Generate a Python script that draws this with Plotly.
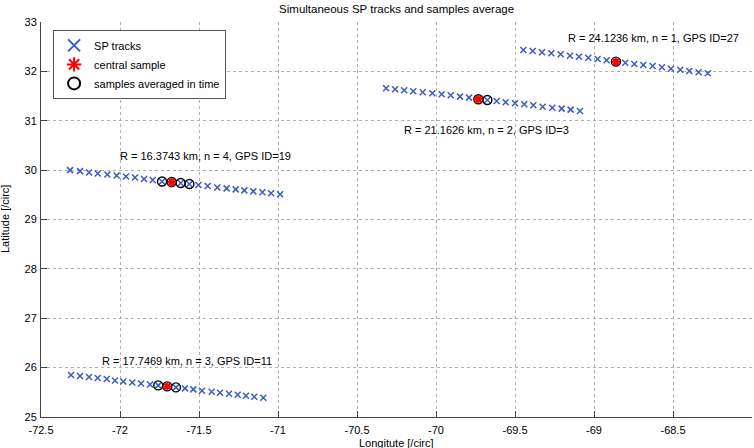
import plotly.graph_objects as go

# ---- data ----
# Track GPS ID=27 (n = 1)
lon_27 = [-69.447, -69.388, -69.329, -69.270, -69.211, -69.152, -69.095, -69.036, -68.977, -68.920,
          -68.861, -68.802, -68.745, -68.688, -68.629, -68.570, -68.513, -68.454, -68.397, -68.338, -68.280]
lat_27 = [32.433, 32.413, 32.387, 32.366, 32.346, 32.318, 32.298, 32.277, 32.251, 32.225,
          32.197, 32.176, 32.150, 32.130, 32.109, 32.083, 32.055, 32.034, 32.008, 31.982, 31.962]
# Track GPS ID=3 (n = 2)
lon_3 = [-70.316, -70.259, -70.201, -70.144, -70.084, -70.023, -69.964, -69.907, -69.848, -69.791,
         -69.732, -69.675, -69.616, -69.559, -69.500, -69.441, -69.384, -69.325, -69.264, -69.205,
         -69.148, -69.089]
lat_3 = [31.658, 31.638, 31.617, 31.597, 31.577, 31.557, 31.536, 31.516, 31.488, 31.468,
         31.435, 31.421, 31.401, 31.374, 31.354, 31.334, 31.314, 31.285, 31.265, 31.245,
         31.225, 31.198]
# Track GPS ID=11 (n = 3)
lon_11 = [-72.310, -72.253, -72.196, -72.141, -72.084, -72.032, -71.979, -71.922, -71.867, -71.810,
          -71.758, -71.701, -71.646, -71.589, -71.536, -71.481, -71.420, -71.367, -71.310, -71.255,
          -71.203, -71.150, -71.093]
lat_11 = [25.85, 25.83, 25.81, 25.79, 25.77, 25.74, 25.72, 25.70, 25.68, 25.66,
          25.64, 25.62, 25.60, 25.58, 25.56, 25.53, 25.51, 25.49, 25.47, 25.45,
          25.43, 25.41, 25.39]
# Track GPS ID=19 (n = 4)
lon_19 = [-72.316, -72.253, -72.196, -72.141, -72.080, -72.021, -71.962, -71.905, -71.848, -71.793,
          -71.734, -71.673, -71.616, -71.561, -71.504, -71.445, -71.384, -71.325, -71.268, -71.213,
          -71.156, -71.099, -71.044, -70.987]
lat_19 = [30.00, 29.98, 29.95, 29.93, 29.91, 29.89, 29.87, 29.85, 29.82, 29.80,
          29.77, 29.76, 29.74, 29.72, 29.70, 29.68, 29.65, 29.63, 29.61, 29.59,
          29.57, 29.55, 29.53, 29.51]

central_index = [10, 10, 11, 11]          # per track (27, 3, 11, 19)
averaged_index = [[10], [10, 11], [10, 11, 12], [10, 11, 12, 13]]

labels = ["R = 24.1236 km, n = 1, GPS ID=27", "R = 21.1626 km, n = 2, GPS ID=3",
          "R = 17.7469 km, n = 3, GPS ID=11", "R = 16.3743 km, n = 4, GPS ID=19"]
label_lon = [-68.623, -69.679, -71.577, -71.457]
label_lat = [32.68, 30.814, 26.138, 30.294]

x_ticks = [-72.5, -72, -71.5, -71, -70.5, -70, -69.5, -69, -68.5, -68]
y_ticks = [25, 26, 27, 28, 29, 30, 31, 32, 33]

tracks = [(lon_27, lat_27), (lon_3, lat_3), (lon_11, lat_11), (lon_19, lat_19)]

all_lon = [v for t in tracks for v in t[0]]
all_lat = [v for t in tracks for v in t[1]]
c_lon = [t[0][i] for t, i in zip(tracks, central_index)]
c_lat = [t[1][i] for t, i in zip(tracks, central_index)]
a_lon = [t[0][i] for t, idx in zip(tracks, averaged_index) for i in idx]
a_lat = [t[1][i] for t, idx in zip(tracks, averaged_index) for i in idx]

FONT = "Liberation Sans, Arial, Helvetica, sans-serif"
TXT = dict(family=FONT, size=11, color="black")

fig = go.Figure()
fig.add_trace(go.Scatter(x=all_lon, y=all_lat, mode="markers", name="SP tracks",
                         marker=dict(symbol="x-thin", size=6, line=dict(width=1.5, color="#3a5cc0")),
                         legendrank=1))
fig.add_trace(go.Scatter(x=a_lon, y=a_lat, mode="markers", name="samples averaged in time",
                         marker=dict(symbol="circle-open", size=9, color="black", line=dict(width=1.4, color="black")),
                         legendrank=3))
fig.add_trace(go.Scatter(x=c_lon, y=c_lat, mode="markers", name="central sample",
                         marker=dict(symbol="asterisk-open", size=7, color="red", line=dict(width=2, color="red")),
                         legendrank=2))

for t, lx, ly in zip(labels, label_lon, label_lat):
    fig.add_annotation(x=lx, y=ly, text=t, showarrow=False, xanchor="center", yanchor="middle", font=TXT)

# axis titles
fig.add_annotation(text="Longitute [/circ]", xref="paper", yref="paper", x=0.5, y=-0.046,
                   xanchor="center", yanchor="top", showarrow=False, font=TXT)
fig.add_annotation(text="Latitude [/circ]", xref="paper", yref="paper", x=-0.04, y=0.5,
                   xanchor="right", yanchor="middle", textangle=-90, showarrow=False, font=TXT)

axis_common = dict(showline=True, linecolor="#444", linewidth=1, mirror=False,
                   ticks="inside", ticklen=6, tickcolor="#444",
                   showgrid=True, gridcolor="#b0b0b0", griddash="dot", gridwidth=1,
                   zeroline=False, tickfont=TXT, automargin=False)

fig.update_layout(
    width=754, height=448,
    margin=dict(l=41, r=2, t=22, b=31, autoexpand=False),
    plot_bgcolor="white", paper_bgcolor="white",
    title=dict(text="Simultaneous SP tracks and samples average", x=0.526, xanchor="center",
               xref="container", yref="container", y=1 - 9 / 448, yanchor="middle",
               font=dict(family=FONT, size=11.5, color="black"), automargin=False),
    xaxis=dict(range=[-72.5, -68], tickvals=x_ticks, ticktext=[str(v) for v in x_ticks],
               ticklabelstandoff=3, **axis_common),
    yaxis=dict(range=[25, 33], tickvals=y_ticks, ticktext=[str(v) for v in y_ticks],
               ticklabelstandoff=1, **axis_common),
    legend=dict(x=0.017, y=0.98, xanchor="left", yanchor="top", bgcolor="white",
                bordercolor="#555", borderwidth=1, font=TXT,
                itemsizing="constant", tracegroupgap=0),
    showlegend=True,
)

fig.write_html("out.html", config={"displayModeBar": False},
               post_script="document.body.style.margin='0';document.body.style.padding='0';")
